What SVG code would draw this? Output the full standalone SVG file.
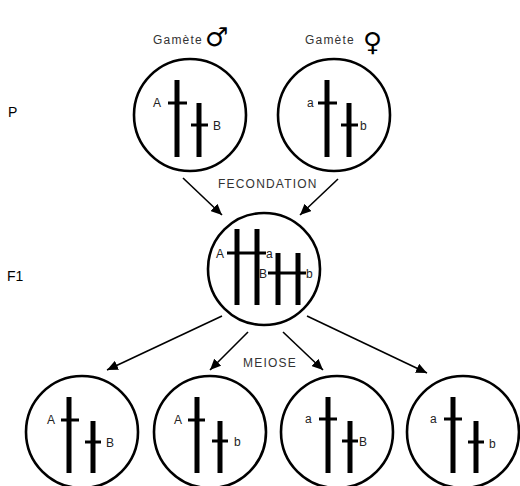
<svg xmlns="http://www.w3.org/2000/svg" width="520" height="486" viewBox="0 0 520 486">
  <style>
    .cell { fill: none; stroke: #000; stroke-width: 2.6; }
    .bar { stroke: #000; stroke-width: 5; stroke-linecap: butt; }
    .locus { stroke: #000; stroke-width: 3; }
    .lbl { font-family: "Liberation Sans", Arial, sans-serif; font-size: 12px; fill: #222; }
    .cap { font-family: "Liberation Sans", Arial, sans-serif; font-size: 12px; letter-spacing: 1.2px; fill: #333; }
    .gen { font-family: "Liberation Sans", Arial, sans-serif; font-size: 14px; fill: #000; }
    .sym { font-family: "DejaVu Sans", sans-serif; fill: #000; }
    .arrow { stroke: #000; stroke-width: 1.6; marker-end: url(#head); }
  </style>
  <defs>
    <marker id="head" markerUnits="userSpaceOnUse" markerWidth="12" markerHeight="10" refX="11" refY="5" orient="auto">
      <path d="M0,0 L11,5 L0,10 Z" fill="#000"/>
    </marker>
  </defs>
  <rect width="520" height="486" fill="#fff"/>

  <!-- generation labels -->
  <text class="gen" x="8" y="117">P</text>
  <text class="gen" x="7" y="281">F1</text>

  <!-- gamete captions -->
  <text class="cap" x="153" y="44">Gamète</text>
  <text class="sym" x="205" y="46" font-size="26">♂</text>
  <text class="cap" x="305" y="44">Gamète</text>
  <text class="sym" x="363" y="51" font-size="26">♀</text>

  <text class="cap" x="218" y="188">FECONDATION</text>
  <text class="cap" x="243" y="367">MEIOSE</text>

  <!-- connectors -->
  <g id="connectors">
    <line class="arrow" x1="183" y1="178" x2="222" y2="215"/>
    <line class="arrow" x1="338" y1="179" x2="300" y2="215"/>
    <line class="arrow" x1="222" y1="316" x2="107" y2="370"/>
    <line class="arrow" x1="248" y1="332" x2="210" y2="370"/>
    <line class="arrow" x1="283" y1="332" x2="323" y2="370"/>
    <line class="arrow" x1="307" y1="316" x2="427" y2="373"/>
  </g>

  <!-- male gamete -->
  <g id="gamete-male">
    <circle class="cell" cx="190" cy="115" r="56"/>
    <line class="bar" x1="177" y1="80" x2="177" y2="157"/>
    <line class="locus" x1="168" y1="103" x2="187" y2="103"/>
    <line class="bar" x1="199" y1="103" x2="199" y2="157"/>
    <line class="locus" x1="191" y1="125" x2="208" y2="125"/>
    <text class="lbl" x="153" y="107">A</text>
    <text class="lbl" x="213" y="130">B</text>
  </g>

  <!-- female gamete -->
  <g id="gamete-female">
    <circle class="cell" cx="334" cy="115" r="56"/>
    <line class="bar" x1="327" y1="80" x2="327" y2="157"/>
    <line class="locus" x1="318" y1="103" x2="337" y2="103"/>
    <line class="bar" x1="349" y1="103" x2="349" y2="157"/>
    <line class="locus" x1="341" y1="125" x2="358" y2="125"/>
    <text class="lbl" x="307" y="107">a</text>
    <text class="lbl" x="360" y="130">b</text>
  </g>

  <!-- F1 zygote -->
  <g id="zygote-f1">
    <circle class="cell" cx="264" cy="269" r="56"/>
    <line class="bar" x1="237" y1="229" x2="237" y2="305"/>
    <line class="bar" x1="257" y1="229" x2="257" y2="305"/>
    <line class="bar" x1="278" y1="253" x2="278" y2="305"/>
    <line class="bar" x1="298" y1="253" x2="298" y2="305"/>
    <line class="locus" x1="227" y1="253" x2="266" y2="253"/>
    <line class="locus" x1="268" y1="273" x2="306" y2="273"/>
    <text class="lbl" x="216" y="258">A</text>
    <text class="lbl" x="266" y="258">a</text>
    <text class="lbl" x="259" y="278">B</text>
    <text class="lbl" x="306" y="278">b</text>
  </g>

  <!-- meiosis products -->
  <g id="gamete-AB">
    <circle class="cell" cx="82" cy="432" r="56"/>
    <line class="bar" x1="69" y1="397" x2="69" y2="473"/>
    <line class="locus" x1="61" y1="420" x2="79" y2="420"/>
    <line class="bar" x1="93" y1="421" x2="93" y2="473"/>
    <line class="locus" x1="85" y1="442" x2="101" y2="442"/>
    <text class="lbl" x="47" y="424">A</text>
    <text class="lbl" x="106" y="447">B</text>
  </g>

  <g id="gamete-Ab">
    <circle class="cell" cx="210" cy="432" r="56"/>
    <line class="bar" x1="197" y1="397" x2="197" y2="473"/>
    <line class="locus" x1="188" y1="420" x2="205" y2="420"/>
    <line class="bar" x1="220" y1="421" x2="220" y2="473"/>
    <line class="locus" x1="212" y1="441" x2="228" y2="441"/>
    <text class="lbl" x="174" y="424">A</text>
    <text class="lbl" x="234" y="446">b</text>
  </g>

  <g id="gamete-aB">
    <circle class="cell" cx="337" cy="432" r="56"/>
    <line class="bar" x1="328" y1="397" x2="328" y2="473"/>
    <line class="locus" x1="319" y1="419" x2="337" y2="419"/>
    <line class="bar" x1="350" y1="421" x2="350" y2="473"/>
    <line class="locus" x1="342" y1="441" x2="358" y2="441"/>
    <text class="lbl" x="305" y="423">a</text>
    <text class="lbl" x="359" y="446">B</text>
  </g>

  <g id="gamete-ab">
    <circle class="cell" cx="463" cy="432" r="56"/>
    <line class="bar" x1="453" y1="397" x2="453" y2="473"/>
    <line class="locus" x1="444" y1="419" x2="462" y2="419"/>
    <line class="bar" x1="476" y1="421" x2="476" y2="473"/>
    <line class="locus" x1="468" y1="442" x2="484" y2="442"/>
    <text class="lbl" x="430" y="423">a</text>
    <text class="lbl" x="489" y="448">b</text>
  </g>
</svg>
